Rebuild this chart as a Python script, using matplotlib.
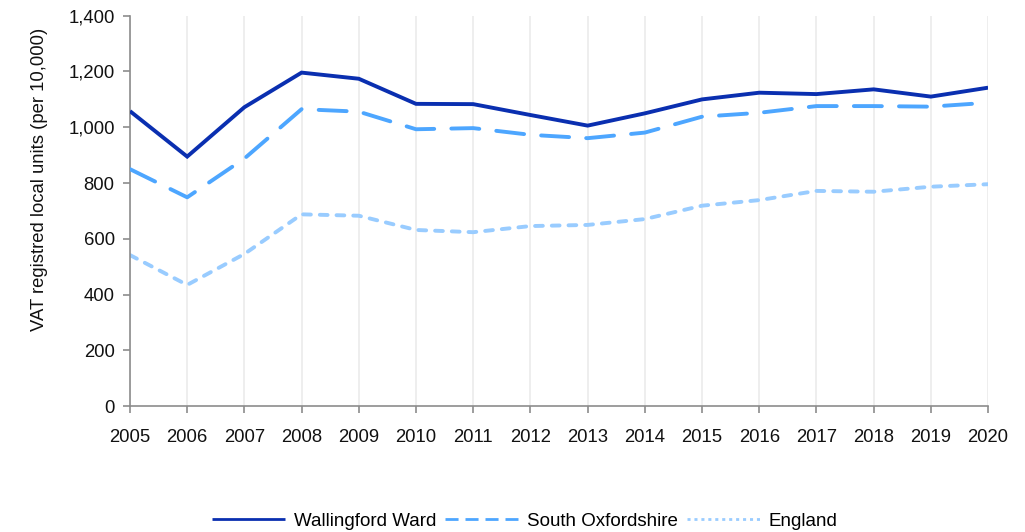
import matplotlib
matplotlib.use("Agg")
import matplotlib.pyplot as plt

years = list(range(2005, 2021))
wallingford = [1058, 895, 1072, 1196, 1174, 1084, 1083, 1044, 1006, 1050, 1100, 1124, 1119, 1136, 1110, 1142]
south_oxon = [850, 749, 888, 1065, 1056, 993, 997, 973, 961, 981, 1038, 1052, 1076, 1076, 1074, 1088]
england = [542, 435, 546, 688, 683, 632, 624, 646, 650, 671, 719, 739, 772, 769, 787, 796]
series_names = ["Wallingford Ward", "South Oxfordshire", "England"]

plt.rcParams["font.family"] = ["Liberation Sans", "DejaVu Sans"]
plt.rcParams["font.size"] = 13.3

fig = plt.figure(figsize=(10.25, 5.32), dpi=100)
ax = fig.add_axes([0.1268, 0.2363, 0.8372, 0.7342])

lw = 2.8
ax.plot(years, wallingford, color="#0a2fb0", lw=lw, solid_capstyle="butt",
        solid_joinstyle="miter", label=series_names[0], zorder=4)
ax.plot(years, south_oxon, color="#4da6ff", lw=lw, linestyle=(0, (7.2, 4.4)),
        dash_capstyle="round", label=series_names[1], zorder=3)
ax.plot(years, england, color="#99ccff", lw=lw, linestyle=(0, (2.0, 2.3)),
        dash_capstyle="round", label=series_names[2], zorder=2)

ax.set_xlim(2005, 2020)
ax.set_ylim(0, 1400)
ax.set_xticks(years)
ax.set_yticks(range(0, 1401, 200))
ax.yaxis.set_major_formatter(matplotlib.ticker.FuncFormatter(lambda v, p: f"{int(v):,}"))

ax.grid(axis="x", color="#ebebeb", lw=1.2, zorder=0)
ax.grid(axis="y", visible=False)
for side in ("top", "right"):
    ax.spines[side].set_visible(False)
for side in ("left", "bottom"):
    ax.spines[side].set_color("#8c8c8c")
    ax.spines[side].set_linewidth(1.2)
ax.tick_params(axis="both", colors="#8c8c8c", length=5, width=1.2,
               labelcolor="#111111", labelsize=13.3)
ax.tick_params(axis="x", pad=11)
ax.tick_params(axis="y", pad=6)

ax.set_ylabel("VAT registred local units (per 10,000)", fontsize=13.3,
              color="#111111")
ax.yaxis.set_label_coords(-0.0956, 0.582)

leg = fig.legend(loc="center", bbox_to_anchor=(0.512, 0.02), ncol=3, frameon=False,
                 handlelength=3.9, handletextpad=0.45, columnspacing=0.5,
                 fontsize=13.5)
legend_dashes = [None, (4.7, 2.5), (1.1, 1.4)]
for line, dashes in zip(leg.get_lines(), legend_dashes):
    line.set_linewidth(2.0)
    if dashes is not None:
        line.set_dash_capstyle("butt")
        line.set_linestyle((0, dashes))

fig.savefig("out.png", dpi=100)
